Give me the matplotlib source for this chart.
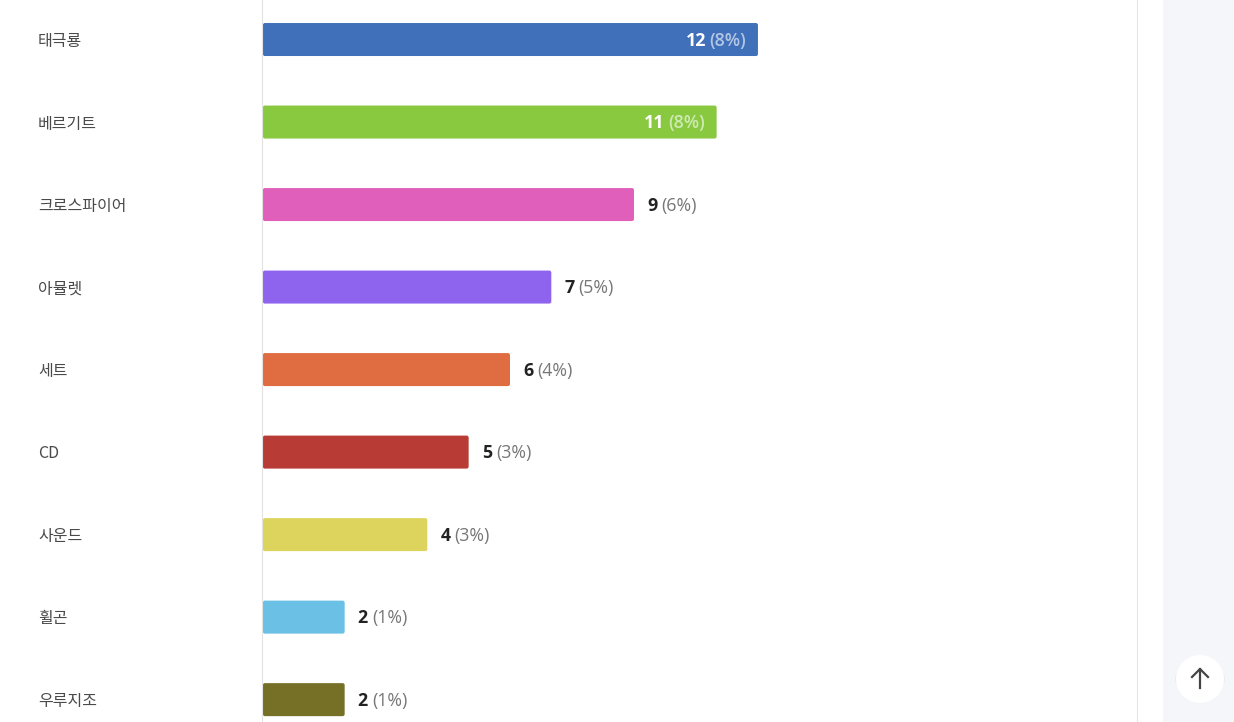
import matplotlib
matplotlib.use("Agg")
import matplotlib.pyplot as plt
from matplotlib.patches import Rectangle, Circle, FancyBboxPatch
from matplotlib.transforms import offset_copy

plt.rcParams['font.family'] = ['Noto Sans CJK KR', 'DejaVu Sans']

# data
items = ['태극룡', '베르기트', '크로스파이어', '아뮬렛', '세트', 'CD', '사운드', '휠곤', '우루지조']
counts = [12, 11, 9, 7, 6, 5, 4, 2, 2]
percents = ['8%', '8%', '6%', '5%', '4%', '3%', '3%', '1%', '1%']
colors = ['#4170ba', '#88c940', '#df5fbb', '#8e63ee', '#e06c41',
          '#b83c35', '#ddd45e', '#6bc0e6', '#767026']
inside = [True, True, False, False, False, False, False, False, False]

W, H = 1234, 722
PX_PER_UNIT = 41.33
fig = plt.figure(figsize=(W / 100, H / 100), dpi=100)
fig.patch.set_facecolor('white')

# right side grey panel
fig.patches.append(Rectangle((1163 / W, 0), (W - 1163) / W, 1, transform=fig.transFigure,
                             facecolor='#f5f6fa', edgecolor='none', zorder=0))

ax = fig.add_axes([262 / W, 0, (1137 - 262) / W, 1])
ax.set_xlim(0, (1137 - 262) / PX_PER_UNIT)
ax.set_ylim(8.75 - 0.479, -0.479)

for sp in ['top', 'bottom']:
    ax.spines[sp].set_visible(False)
ax.spines['left'].set_color('#e2e2e2')
ax.spines['right'].set_color('#e6e6e6')
ax.set_xticks([])
ax.set_yticks([])

ypos = list(range(len(items)))
for y, c, col in zip(ypos, counts, colors):
    ax.add_patch(FancyBboxPatch((0.02, y - 0.2), c - 0.02, 0.4,
                                boxstyle='round,pad=0,rounding_size=0.05',
                                mutation_aspect=0.4 / 0.8,
                                facecolor=col, edgecolor='none'))

fig.canvas.draw()
renderer = fig.canvas.get_renderer()
fs = 12.8
vfont = ['Open Sans', 'DejaVu Sans']

for y, name, c, p, ins in zip(ypos, items, counts, percents, inside):
    fig.text(38 / W, 1 - (41.5 + 82.5 * y) / H, name, fontsize=11.5, color='#4a4a4a',
             ha='left', va='center')
    if ins:
        tp = ax.text(c, y, f'({p})', fontsize=fs, color='white', alpha=0.6,
                     ha='right', va='center', family=vfont, fontweight='semibold',
                     transform=offset_copy(ax.transData, fig=fig, x=-12, y=-1, units='dots'))
        wp = tp.get_window_extent(renderer).width
        ax.text(c, y, str(c), fontsize=fs, color='white', fontweight='bold',
                ha='right', va='center', family=vfont,
                transform=offset_copy(ax.transData, fig=fig, x=-12 - wp - 3, y=-1, units='dots'))
    else:
        tn = ax.text(c, y, str(c), fontsize=fs, color='#222222', fontweight='bold',
                     ha='left', va='center', family=vfont,
                     transform=offset_copy(ax.transData, fig=fig, x=13, y=-1, units='dots'))
        wn = tn.get_window_extent(renderer).width
        ax.text(c, y, f'({p})', fontsize=fs, color='#777777',
                ha='left', va='center', family=vfont,
                transform=offset_copy(ax.transData, fig=fig, x=13 + wn + 4, y=-1, units='dots'))

# scroll-to-top button
fig.patches.append(Circle((1200 / W, 1 - 679 / H), 25 / W, transform=fig.transFigure,
                          facecolor='#ececf0', edgecolor='none', zorder=1))
btn = Circle((1200, H - 679), 24, transform=None, facecolor='white', edgecolor='none', zorder=2)
fig.patches.append(btn)
fig.add_artist(plt.Line2D([1200 / W, 1200 / W], [1 - 688 / H, 1 - 669 / H],
                          transform=fig.transFigure, color='#444444', lw=1.6, zorder=3))
fig.add_artist(plt.Line2D([1192 / W, 1200 / W, 1208 / W], [1 - 677 / H, 1 - 669 / H, 1 - 677 / H],
                          transform=fig.transFigure, color='#444444', lw=1.6, zorder=3))

fig.savefig('out.png', dpi=100)
